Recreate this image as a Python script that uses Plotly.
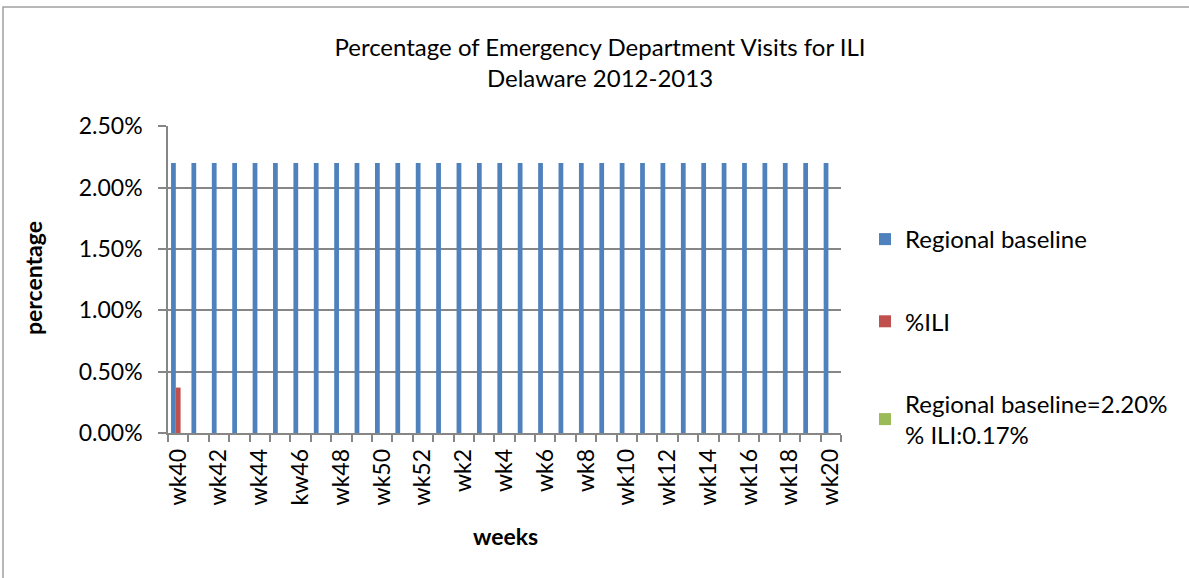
import plotly.graph_objects as go

weeks = ["wk40", "wk41", "wk42", "wk43", "wk44", "wk45", "kw46", "wk47", "wk48", "wk49",
         "wk50", "wk51", "wk52", "wk1", "wk2", "wk3", "wk4", "wk5", "wk6", "wk7", "wk8",
         "wk9", "wk10", "wk11", "wk12", "wk13", "wk14", "wk15", "wk16", "wk17", "wk18",
         "wk19", "wk20"]
tick_labels = [w if i % 2 == 0 else "" for i, w in enumerate(weeks)]
baseline = [0.022] * 33
ili = [0.0037] + [None] * 32
summary = [None] * 33

FONT = "Lato, 'Open Sans', sans-serif"
GRID = "#868686"

W, H = 1189, 578
L, R, T, B = 168, 348, 126, 145
plot_h = H - T - B
plot_w = W - L - R


def py(p):
    return (H - B - p) / plot_h


def px_(x):
    return (x - L) / plot_w


fig = go.Figure()
fig.add_trace(go.Bar(x=weeks, y=baseline, name="Regional baseline",
                     marker=dict(color="#4F81BD", line=dict(width=0)), legendgroup="a"))
fig.add_trace(go.Bar(x=weeks, y=ili, name="%ILI",
                     marker=dict(color="#C0504D", line=dict(width=0)), legendgroup="b"))
fig.add_trace(go.Bar(x=weeks, y=summary, name="Regional baseline=2.20%<br>% ILI:0.17%",
                     marker=dict(color="#9BBB59", line=dict(width=0)), legendgroup="c"))

fig.update_layout(
    width=W, height=H,
    margin=dict(l=L, r=R, t=T, b=B, autoexpand=False),
    paper_bgcolor="white", plot_bgcolor="white",
    font=dict(family=FONT, size=24, color="black"),
    barmode="group", bargap=0.3, bargroupgap=0,
    showlegend=True,
    legend=dict(x=px_(865), y=py(217), xanchor="left", yanchor="top",
                font=dict(size=24), tracegroupgap=48, itemclick=False,
                bgcolor="rgba(0,0,0,0)"),
    title=dict(text="Percentage of Emergency Department Visits for ILI<br>Delaware 2012-2013",
               x=600 / W, xref="container", xanchor="center", y=1 - 56 / H, yref="container",
               yanchor="middle", font=dict(size=24, family=FONT)),
    xaxis=dict(type="category", tickmode="array", tickvals=weeks, ticktext=tick_labels,
               tickangle=-90, tickson="boundaries", ticks="outside", ticklen=7,
               tickcolor=GRID, tickwidth=1.5, showline=True, linecolor=GRID, linewidth=1.5,
               showgrid=False, ticklabelstandoff=5, tickfont=dict(size=23)),
    yaxis=dict(range=[0, 0.02501], tickvals=[0, 0.005, 0.01, 0.015, 0.02, 0.025],
               tickformat=".2%", showgrid=True,
               gridcolor=GRID, gridwidth=1.5, ticks="outside", ticklen=8, tickcolor=GRID,
               tickwidth=1.5, showline=True, linecolor=GRID, linewidth=1.5,
               ticklabelstandoff=11, zeroline=False, tickfont=dict(size=23)),
)

fig.add_annotation(text="<b>weeks</b>", x=px_(505), y=py(536), xref="paper", yref="paper",
                   showarrow=False, font=dict(size=23), xanchor="center", yanchor="middle")
fig.add_annotation(text="<b>percentage</b>", x=px_(33), y=py(278), xref="paper", yref="paper",
                   showarrow=False, textangle=-90, font=dict(size=23),
                   xanchor="center", yanchor="middle")
fig.add_shape(type="rect", xref="paper", yref="paper", x0=px_(3), x1=px_(1200),
              y0=py(590), y1=py(7), line=dict(color="#A0A0A0", width=1.5))

fig.write_html("out.html", config={"displayModeBar": False},
               post_script="document.body.style.margin='0';")
